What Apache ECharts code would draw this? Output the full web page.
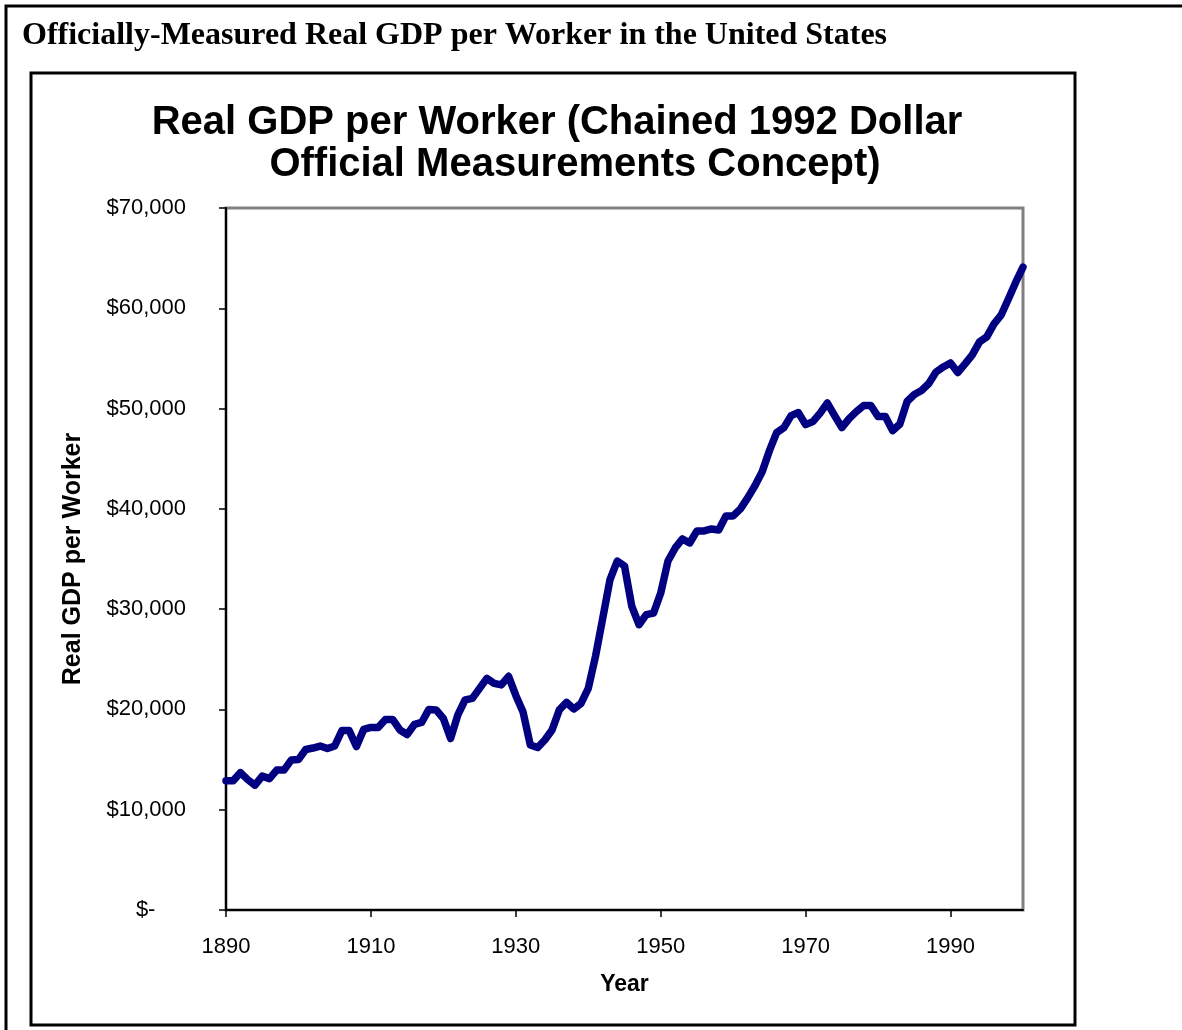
<!DOCTYPE html>
<html>
<head>
<meta charset="utf-8">
<title>Real GDP per Worker</title>
<script src="https://cdn.jsdelivr.net/npm/echarts@6/dist/echarts.min.js"></script>
<style>
  html, body { margin: 0; padding: 0; background: #fff; }
  #chart { width: 1182px; height: 1030px; }
</style>
</head>
<body>
<div id="chart"></div>
<script>
// years 1890 .. 2000, one point per year
const firstYear = 1890
const lastYear = 2000
const years = []
for (let y = firstYear; y <= lastYear; y++) years.push(String(y))

// real GDP per worker, chained 1992 dollars
const gdpPerWorker = [
  12900, 12900, 13700, 13000, 12450, 13350, 13100, 13950, 13950, 14950, // 1890s
  15000, 16000, 16150, 16350, 16100, 16350, 17900, 17900, 16300, 18000, // 1900s
  18200, 18200, 19000, 19000, 17950, 17500, 18500, 18700, 20000, 19950, // 1910s
  19100, 17100, 19450, 20950, 21100, 22100, 23100, 22600, 22450, 23300, // 1920s
  21400, 19750, 16450, 16200, 16950, 17950, 19950, 20700, 20050, 20600, // 1930s
  22100, 25300, 29100, 32950, 34800, 34300, 30300, 28450, 29450, 29600, // 1940s
  31600, 34800, 36100, 37000, 36600, 37800, 37800, 38000, 37900, 39300, // 1950s
  39300, 40000, 41100, 42300, 43700, 45800, 47600, 48100, 49300, 49600, // 1960s
  48400, 48700, 49550, 50550, 49300, 48100, 49000, 49700, 50300, 50300, // 1970s
  49200, 49200, 47800, 48450, 50700, 51400, 51800, 52500, 53650, 54150, // 1980s
  54550, 53600, 54450, 55350, 56650, 57150, 58450, 59350, 60950, 62600, // 1990s
  64100                                                                 // 2000
]

const chart = echarts.init(document.getElementById('chart'))

const money = v => {
  if (v === 0) return '$-     '
  return '$' + v.toLocaleString('en-US')
}

chart.setOption({
  animation: false,
  backgroundColor: '#fff',
  graphic: [
    {
      type: 'rect',
      shape: { x: 6, y: 6, width: 1300, height: 1200 },
      style: { fill: 'none', stroke: '#000', lineWidth: 3 }
    },
    {
      type: 'text',
      left: 22,
      top: 20,
      style: {
        text: 'Officially-Measured Real GDP per Worker in the United States',
        font: 'bold 32px "Liberation Serif", "Times New Roman", serif',
        fill: '#000'
      }
    },
    {
      type: 'rect',
      shape: { x: 31, y: 73, width: 1044, height: 952 },
      style: { fill: 'none', stroke: '#000', lineWidth: 3 }
    }
  ],
  title: [
    {
      text: 'Real GDP per Worker (Chained 1992 Dollar',
      left: 552,
      top: 97,
      textAlign: 'center',
      textStyle: {
        fontFamily: '"Liberation Sans", Arial, sans-serif',
        fontWeight: 'bold',
        fontSize: 40,
        lineHeight: 42,
        color: '#000'
      }
    },
    {
      text: 'Official Measurements Concept)',
      left: 570,
      top: 139,
      textAlign: 'center',
      textStyle: {
        fontFamily: '"Liberation Sans", Arial, sans-serif',
        fontWeight: 'bold',
        fontSize: 40,
        lineHeight: 42,
        color: '#000'
      }
    }
  ],
  grid: {
    left: 226,
    right: 159,
    top: 208,
    bottom: 120,
    show: true,
    borderColor: '#808080',
    borderWidth: 3,
    backgroundColor: '#fff'
  },
  xAxis: {
    type: 'category',
    data: years,
    boundaryGap: false,
    name: 'Year',
    nameLocation: 'middle',
    nameGap: 63,
    nameTextStyle: {
      fontFamily: '"Liberation Sans", Arial, sans-serif',
      fontWeight: 'bold',
      fontSize: 23,
      color: '#000'
    },
    axisLine: { show: true, lineStyle: { color: '#000', width: 2 } },
    axisTick: {
      show: true,
      length: 7,
      interval: i => i % 20 === 0,
      lineStyle: { color: '#000', width: 1.5 }
    },
    axisLabel: {
      interval: i => i % 20 === 0,
      margin: 26,
      fontFamily: '"Liberation Sans", Arial, sans-serif',
      fontSize: 22,
      color: '#000'
    },
    splitLine: { show: false }
  },
  yAxis: {
    type: 'value',
    min: 0,
    max: 70000,
    interval: 10000,
    name: 'Real GDP per Worker',
    nameLocation: 'middle',
    nameRotate: 90,
    nameGap: 140,
    nameTextStyle: {
      fontFamily: '"Liberation Sans", Arial, sans-serif',
      fontWeight: 'bold',
      fontSize: 25,
      color: '#000'
    },
    axisLine: { show: true, lineStyle: { color: '#000', width: 2 } },
    axisTick: { show: true, length: 7, lineStyle: { color: '#000', width: 1.5 } },
    axisLabel: {
      margin: 40,
      formatter: money,
      fontFamily: '"Liberation Sans", Arial, sans-serif',
      fontSize: 22,
      color: '#000'
    },
    splitLine: { show: false }
  },
  series: [
    {
      name: 'Real GDP per Worker',
      type: 'line',
      data: gdpPerWorker,
      symbol: 'none',
      lineStyle: { color: '#000080', width: 7.5, join: 'round', cap: 'round' },
      itemStyle: { color: '#000080' }
    }
  ]
})
</script>
</body>
</html>
